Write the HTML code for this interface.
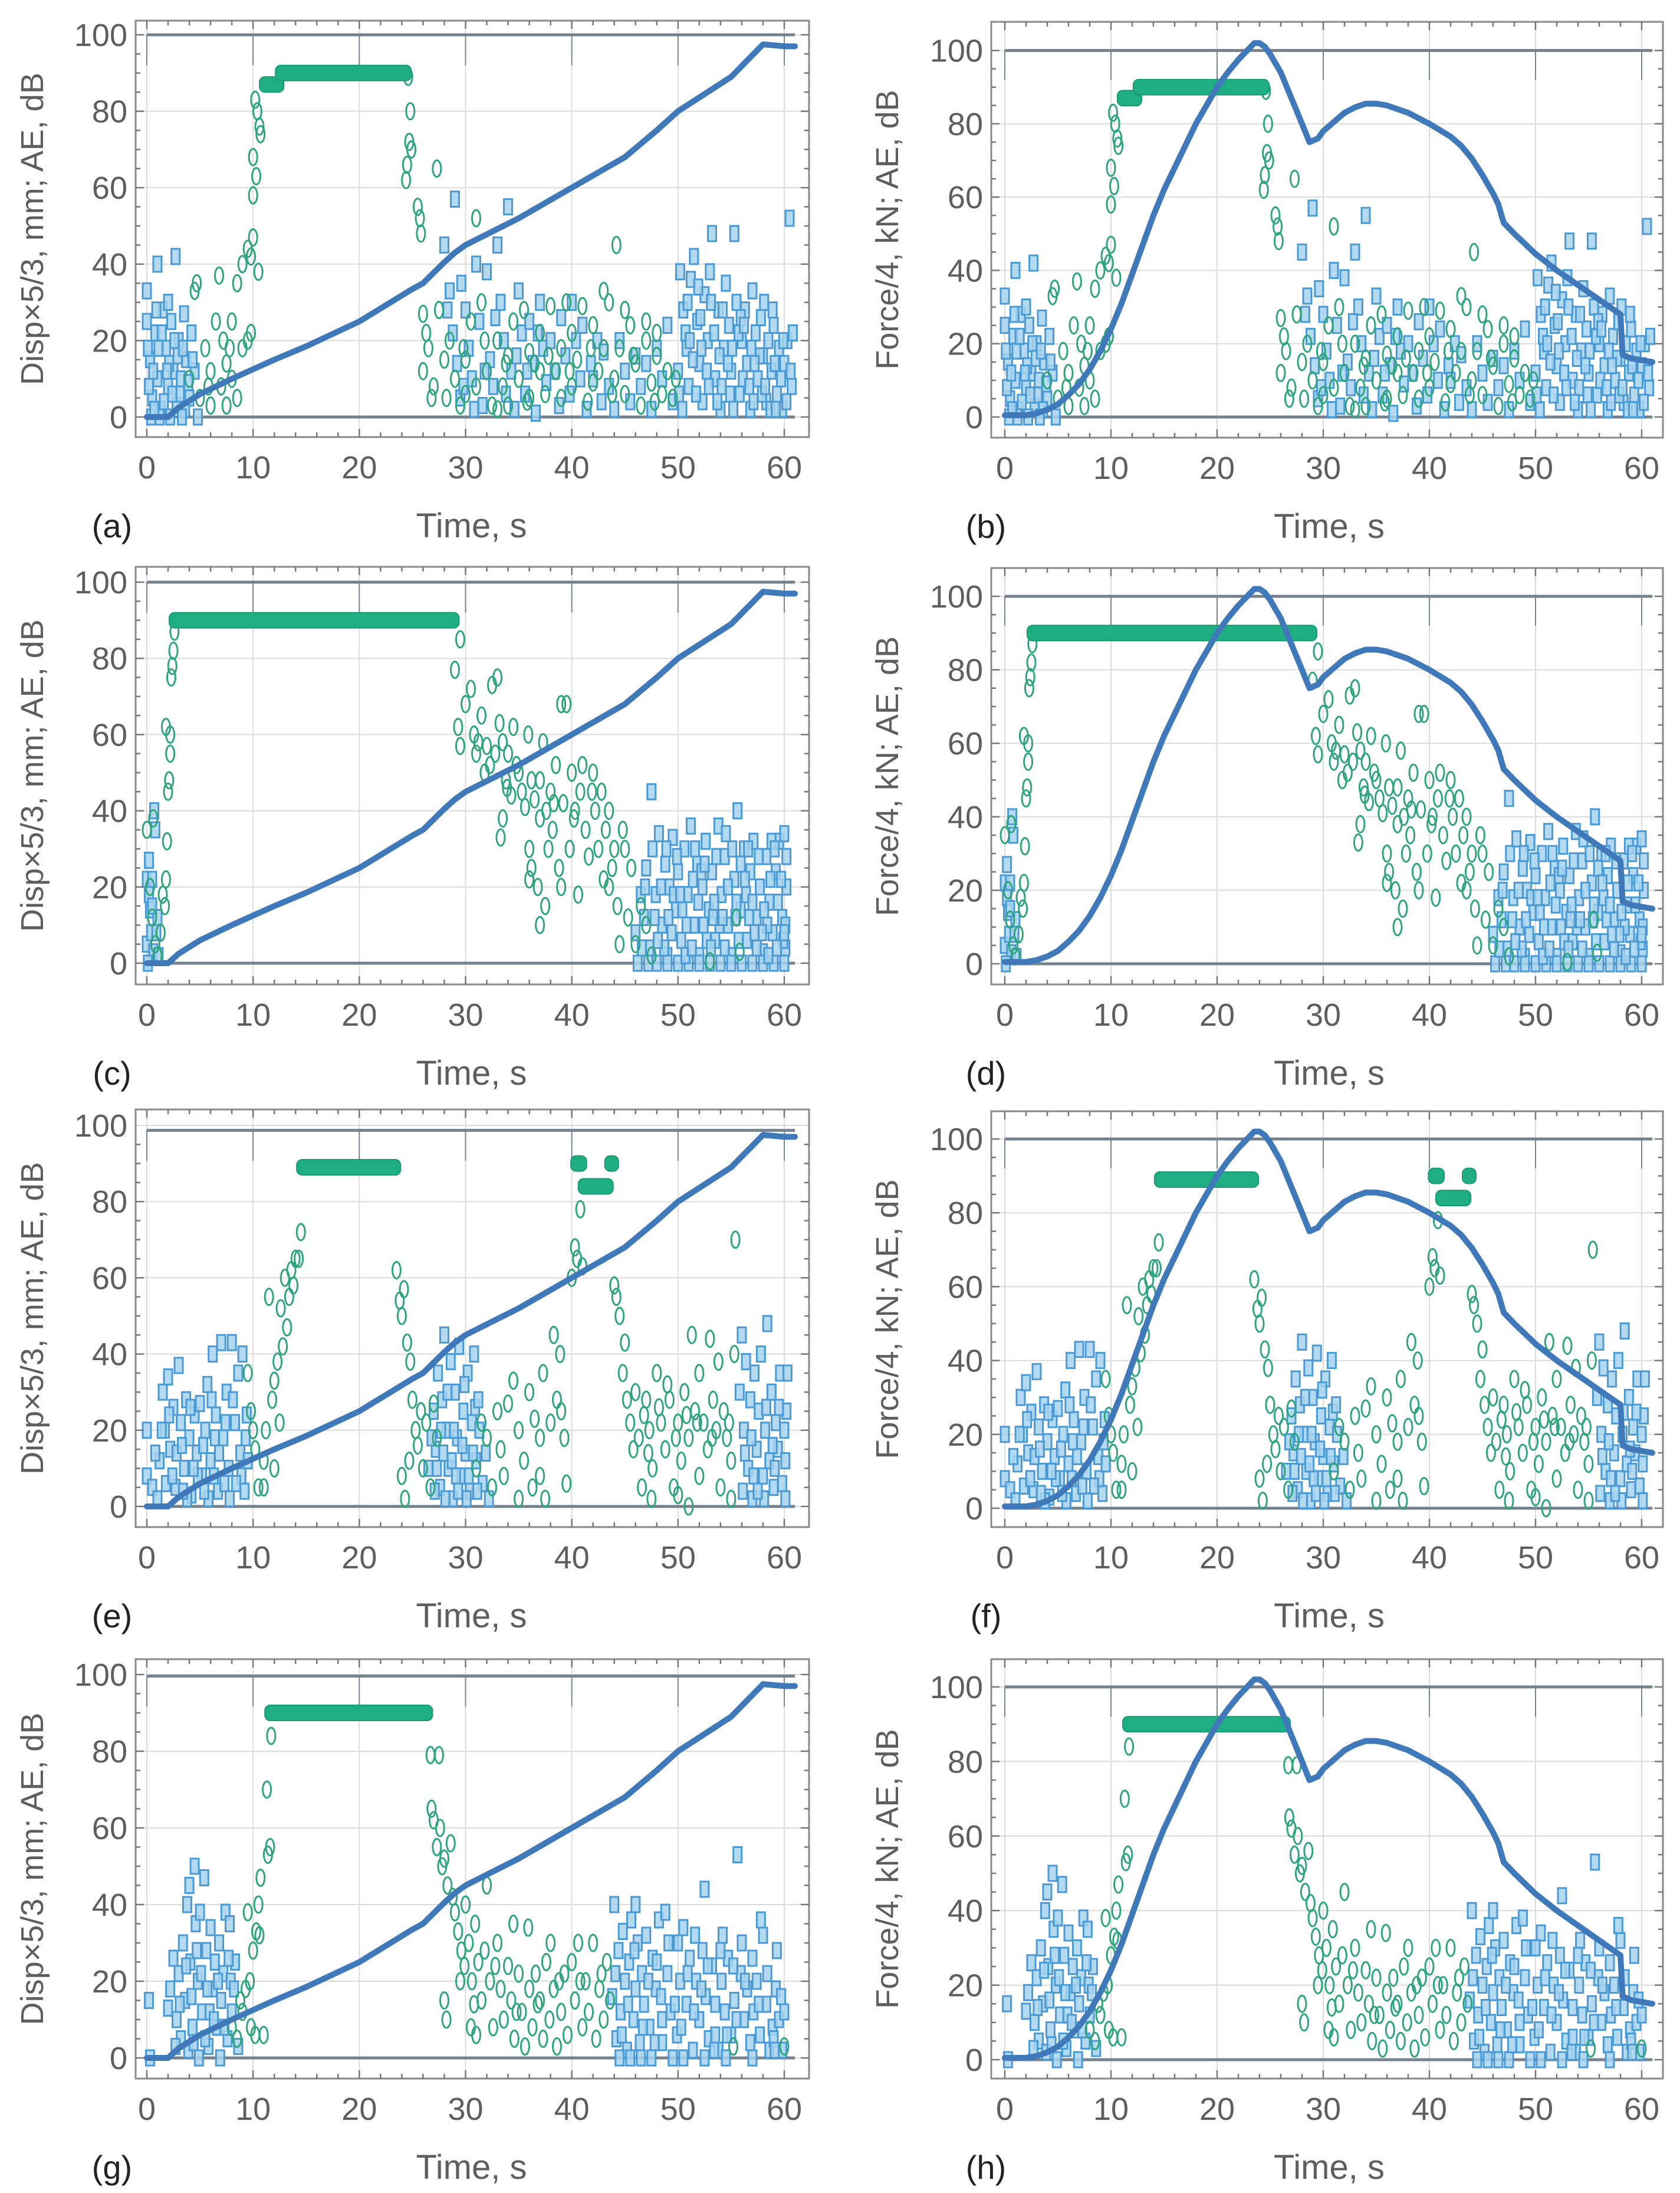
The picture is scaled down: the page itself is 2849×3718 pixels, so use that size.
<!DOCTYPE html>
<html><head><meta charset="utf-8"><style>
html,body{margin:0;padding:0;background:#fff}
svg{display:block}
text{font-family:"Liberation Sans",sans-serif;fill:#5e5e5e}
</style></head><body>
<svg id="fig" width="2849" height="3718" viewBox="0 0 2849 3718" xmlns="http://www.w3.org/2000/svg"></svg>
<script>
// ---- line series ----
const dispT=[0,1,2,3,5,8,10,12,15,20,25,26,28,29,30,35,40,45,48,50,55,58,60,61];
const dispV=[0,0,0,2.5,6,10,12.5,15,18.5,25,33.5,35,40.5,43,45,52,60,68,75,80,89,97.5,97,97];
const forceT=[0,2,3,4,5,6,7,8,9,10,11,12,13,14,15,16,17,18,19,20,21,22,23,23.5,24,24.5,25,26,27,28,28.7,29.5,30,31,32,33,34,35,36,38,40,42,43,44,45,46,46.5,47,47.5,48,50,52,54,56,58,58.2,59,61];
const forceV=[0.5,0.5,1,2,3.5,6,9,13,18,24,31,39,47,55,62,68,74,80,85,90,94,97.5,100.5,102,102,101,99,94,87,80,75,76,78,80.5,83,84.5,85.5,85.5,85,83,80,76.5,74,70.5,66,61,58,53,51.5,50,44.5,40,36,32,28,17,16,15];
// ---- AE plateaus [t0,t1,level] ----
const plat1=[[11,12.5,87],[12.5,24.5,90]];
const plat2=[[2.5,29,90]];
const plat3=[[14.5,23.5,89],[40.3,41,90],[41,43.5,84],[43.5,44,90]];
const plat4=[[11.5,26.5,90]];
// ---- AE channel 1 (green ellipses) ----
const green1=[[8.5,35],[9,40],[9.5,44],[9.8,42],[10,47],[10,58],[10,68],[10.3,63],[10.2,83],[10.4,80],[10.6,76],[10.7,74],[10.5,38],[9.5,20],[9.8,22],[4.5,33],[4.7,35],[5.5,18],[6,12],[6.5,25],[6.8,37],[7,8],[7.2,20],[7.5,14],[8,10],[8.5,5],[9,18],[4,10],[5,5],[6,3],[7.5,3],[8,25],[24.6,89],[24.8,80],[24.7,72],[24.5,66],[24.4,62],[24.9,70],[25.5,55],[25.7,52],[25.8,48],[27.3,65],[26,27],[26.3,22],[26,12],[26.5,18],[26.8,5],[27,8],[27.5,28],[28,15],[28.2,5],[28.5,20],[29,10],[29.5,3],[30,15],[30.5,25],[31,8],[31.5,30],[32,12],[32.5,3],[33,20],[33.5,8],[34,16],[34.5,25],[35,10],[35.5,28],[36,5],[36.5,14],[37,22],[37.5,6],[38,29],[38.5,12],[39,18],[39.5,30],[40,8],[40.5,15],[41,29],[41.5,4],[42,24],[42.5,12],[43,33],[43.5,30],[44,10],[44.2,45],[44.5,18],[45,6],[45.5,24],[46,14],[46.5,3],[47,20],[47.5,9],[48,16],[48.5,6],[49,12],[49.5,5],[31,52],[33,2],[37,12],[40,22],[45,28],[47,25],[36,17],[39,5],[42,9],[34,3],[30,6],[43,18],[48,22],[29.8,18],[31.8,20],[33.8,14],[35.8,4],[37.8,16],[39.8,12],[41.8,18],[43.8,6],[45.8,16],[47.8,4],[49.8,10],[5.8,8],[7.8,18]];
const green2=[[0,35],[0.3,20],[0.5,12],[0.8,5],[1,2],[1.3,8],[1.5,18],[1.7,15],[1.8,22],[1.9,32],[2,45],[2.1,48],[2.2,60],[2.2,55],[2.3,75],[2.4,78],[2.5,82],[2.6,87],[1.8,62],[0.6,38],[29.5,85],[29,77],[29.3,62],[29.5,57],[30,68],[30.5,72],[30.8,60],[31,55],[31.5,65],[32,57],[32.3,52],[32.5,73],[33,75],[33.2,63],[33.5,58],[33.8,48],[33.3,33],[33.5,38],[34,55],[34.3,44],[34.5,62],[35,50],[35.3,45],[35.6,41],[35.9,60],[36,30],[36.2,25],[36.5,43],[36.8,20],[37,38],[37,48],[37.3,58],[37.6,40],[37.8,30],[37,10],[36,22],[37.5,15],[38,45],[38.2,35],[38.5,52],[38.8,25],[39,20],[39.2,42],[39,68],[39.5,68],[39.8,30],[40,50],[40.3,40],[40.6,18],[40.8,45],[41,52],[41.3,35],[41.6,28],[41.9,45],[42.2,40],[42.5,30],[42.8,45],[43,22],[43.2,35],[43.5,20],[43.8,25],[44,30],[44.3,15],[44.5,5],[44.8,35],[45,30],[45.3,12],[45.6,25],[46,5],[46.5,15],[47,10],[47.5,2],[55.5,12],[55.8,3],[53,0.5],[31.2,58],[32.8,55],[34.8,52],[36.2,48],[38.3,42],[40.2,38],[42,50],[43.5,40],[31.8,50],[33.9,46]];
const green3=[[9.5,35],[9.8,25],[10,20],[10.2,15],[10.5,5],[11,12],[11.2,20],[11.5,55],[11.8,28],[12,33],[12.3,38],[12.5,22],[12.6,52],[12.8,42],[13,60],[13.2,47],[13.4,55],[13.6,62],[13.8,58],[14,65],[14.3,65],[14.5,72],[11,5],[12,10],[23.5,62],[23.8,54],[24,50],[24.2,57],[24.5,43],[24.8,38],[25,28],[25.3,20],[25.5,16],[25.8,25],[26,10],[24,8],[24.3,2],[24.7,12],[26.3,22],[26.7,5],[27,27],[27.3,18],[31,10],[31.5,22],[32,18],[32.5,5],[33,25],[33.3,15],[33.6,8],[34,27],[34.5,33],[35,20],[35.5,12],[36,30],[36.3,5],[36.5,23],[37,18],[37.3,35],[37.5,2],[38,22],[38.3,45],[38.6,28],[38.9,40],[39,25],[39.3,18],[39.5,6],[40,60],[40.3,68],[40.5,65],[40.8,78],[41,63],[35,2],[37,8],[44,58],[44.2,55],[44.5,50],[45,43],[44.8,35],[45.2,28],[45.5,22],[45.8,15],[46,30],[46.3,18],[46.6,5],[47,28],[47.3,20],[47.6,10],[48,35],[48.4,22],[48.8,15],[49.2,28],[49.6,5],[50,22],[50.3,12],[50.6,30],[51,18],[51.3,45],[51.6,25],[52,8],[52.4,22],[52.8,15],[53,44],[53.3,28],[53.6,20],[54,5],[54.3,25],[54.6,18],[55,12],[55.3,40],[55.4,70],[53.8,38],[52,35],[50,3],[47.5,2],[49,32],[51,0],[55,2],[46.8,24],[48.2,26],[49.8,18],[51.8,22],[53.2,18],[54.8,22],[47.2,14],[50.8,24]];
const green4=[[11.7,84],[11.3,70],[11.6,55],[11.4,53],[10.7,47],[10.5,40],[10.3,33],[10.6,32],[10,28],[9.5,38],[9.7,20],[9.3,18],[9,12],[8.5,5],[9.8,8],[10.2,6],[11,6],[8,8],[8.8,15],[26.7,79],[27.5,79],[26.8,65],[27,62],[27.3,55],[27.6,60],[27.8,50],[28,52],[28.3,45],[28.6,56],[28.8,42],[29,38],[29.3,33],[29.6,28],[29.9,24],[28,15],[28.2,10],[30,40],[30.3,30],[30.6,20],[30.9,35],[31.2,25],[31.5,15],[31.8,28],[32,45],[32.3,20],[32.6,8],[33,30],[33.3,18],[33.6,10],[34,24],[34.3,15],[34.6,5],[34.5,35],[35,22],[35.3,12],[35.6,3],[35.9,34],[36,18],[36.3,8],[36.6,22],[37,15],[37.3,5],[37.6,25],[37.9,10],[38,30],[38.3,18],[38.6,3],[39,12],[39.3,22],[39.6,6],[40,25],[40.3,15],[40.6,30],[41,8],[41.3,20],[41.6,12],[42,30],[42.3,5],[42.6,18],[43,10],[43.3,25],[43.6,15],[55.2,3],[60,3],[30.5,8],[31,6],[29.5,20],[30.8,14],[32.8,24],[34.8,12],[36.8,14],[38.8,20],[40.8,20],[42.8,22]];
// ---- AE channel 2 (blue rectangles) ----
const blue1=[[0,33],[0,25],[0.3,15],[0.5,5],[0.8,22],[1,40],[1,10],[1.3,2],[1.5,28],[1.8,18],[2,30],[2,8],[2.3,25],[2.5,12],[2.7,42],[2.8,3],[3,20],[3.2,10],[3.5,27],[3.7,15],[4,5],[4.2,22],[0.2,8],[0.6,12],[1.1,18],[1.6,4],[2.1,14],[2.6,20],[3.1,6],[3.6,2],[4.5,12],[4.8,0],[0.4,0],[1.2,0],[2.2,0],[3.3,0],[0.9,28],[1.9,12],[2.9,16],[3.9,9],[0.1,18],[0.7,2],[1.4,22],[2.4,6],[3.4,18],[4.3,15],[28,45],[28.5,33],[28.8,22],[29,57],[29.2,14],[29.5,5],[30,28],[30.3,18],[30.6,10],[31,40],[31.3,25],[31.6,3],[32,38],[32.3,15],[32.6,8],[33,45],[33.3,30],[33.6,20],[34,55],[34.3,12],[34.6,2],[35,33],[35.3,22],[35.6,6],[36,25],[36.3,14],[36.6,1],[37,30],[37.3,18],[37.6,9],[38,20],[38.4,12],[38.8,3],[39,26],[39.4,16],[39.8,6],[40,30],[40.4,20],[40.8,10],[41,24],[41.4,2],[41.8,14],[42,10],[42.4,20],[42.8,4],[43,17],[43.5,8],[44,2],[44.5,20],[45,12],[45.5,4],[46,16],[46.5,8],[47,14],[47.5,2],[48,18],[48.5,10],[49,24],[49.5,4],[50,12],[29.8,8],[30.8,2],[31.8,12],[32.8,26],[33.8,6],[34.8,16],[35.8,12],[36.8,22],[28.3,28],[29.6,35],[50.2,38],[50.5,28],[50.8,18],[51,8],[51.2,36],[51.5,42],[51.8,25],[52,14],[52.3,4],[52.5,32],[52.8,20],[53,38],[53.2,48],[53.5,10],[53.8,28],[54,2],[54.3,18],[54.5,35],[54.8,24],[55,12],[55.3,48],[55.5,30],[55.8,6],[56,20],[56.3,28],[56.5,14],[56.8,2],[57,33],[57.3,22],[57.5,10],[57.8,26],[58,16],[58.3,4],[58.5,20],[58.8,12],[59,24],[59.3,6],[59.5,18],[59.8,2],[60,14],[60.3,20],[60.5,52],[60.7,8],[60.8,22],[50.4,2],[51.4,15],[52.1,26],[53.4,22],[54.1,8],[55.1,18],[56.1,10],[57.1,4],[58.1,30],[59.1,14],[50.7,22],[51.7,6],[52.7,12],[53.7,4],[54.7,14],[55.7,22],[56.7,8],[57.7,16],[58.7,2],[59.7,10],[60.2,4],[50.9,30],[51.9,34],[52.9,8],[53.9,16],[54.9,6],[55.9,26],[56.9,18],[57.9,6],[58.9,28],[59.9,20],[60.6,12],[50.1,6],[51.1,20],[52.2,18],[53.1,30],[54.2,28],[55.2,2],[56.2,24],[57.2,14],[58.2,8],[59.2,2]];
const blue2=[[0,22],[0,5],[0.2,27],[0.3,14],[0.4,8],[0.5,22],[0.6,3],[0.7,40],[0.8,35],[1,12],[1.1,2],[0.1,0],[0.2,18],[0.5,15],[0.9,8],[47.5,45],[46,8],[46.5,18],[46.8,12],[47,25],[47.3,4],[47.6,30],[47.9,18],[48.2,34],[48.5,10],[48.8,26],[49,2],[49.2,20],[49.5,33],[49.8,14],[50,24],[50.3,6],[50.6,30],[50.9,18],[51.2,36],[51.5,10],[51.8,26],[52,2],[52.3,20],[52.6,32],[52.9,14],[53.2,24],[53.5,6],[53.8,36],[54.1,18],[54.4,28],[54.7,10],[55,2],[55.3,22],[55.6,40],[55.9,14],[56.2,30],[56.5,6],[56.8,24],[57.1,32],[57.4,12],[57.7,20],[58,3],[58.3,28],[58.6,16],[58.9,8],[59.2,24],[59.5,32],[59.8,12],[60,34],[60.1,4],[60.2,20],[46.2,0],[47.2,0],[48,0],[49,0],[50,0],[51,0],[52,0],[53,0],[54,0],[55,0],[56,0],[57,0],[58,0],[59,0],[60,0],[48.4,20],[49.4,8],[50.4,14],[51.4,22],[52.4,10],[53.4,16],[54.4,4],[55.4,12],[56.4,18],[57.4,4],[58.4,10],[59.4,16],[60.1,10],[48.7,4],[50.7,2],[52.7,6],[54.7,20],[56.7,12],[58.7,22],[49.9,28],[51.9,16],[53.9,10],[55.9,26],[57.9,8],[59.9,6],[46.6,4],[47.8,12],[48.9,30],[49.6,18],[50.8,10],[51.6,30],[52.2,24],[53.1,4],[53.6,28],[54.2,12],[55.1,30],[55.7,6],[56.3,22],[57,16],[57.6,28],[58.1,14],[58.8,32],[59.3,4],[59.7,22],[60.2,28],[46.9,20],[48.1,6],[49.1,12],[50.2,18],[51.3,4],[52.5,26],[53.3,12],[54.5,34],[55.5,16],[56.6,30],[57.2,8],[58.5,2],[59.1,30],[60,8]];
const blue3=[[0,20],[0,8],[0.5,5],[1,2],[1.2,12],[1.5,30],[1.7,20],[2,34],[2.2,15],[2.5,26],[2.7,5],[3,37],[3.2,22],[3.5,10],[3.7,28],[4,18],[4.2,3],[4.5,24],[4.7,14],[5,27],[5.2,8],[5.5,20],[5.7,32],[6,12],[6.2,40],[6.5,24],[6.7,4],[7,43],[7.2,18],[7.5,30],[7.7,10],[8,43],[8.3,22],[8.6,35],[8.8,14],[9,40],[9.2,4],[9.4,24],[1.8,6],[2.8,14],[3.8,2],[4.8,8],[5.8,2],[6.8,14],[7.8,2],[8.9,8],[0.8,14],[3.3,16],[5.3,16],[6.3,8],[7.3,6],[9.5,12],[1.4,20],[2.4,8],[3.4,4],[4.4,10],[5.4,4],[6.4,18],[7.4,22],[8.4,6],[9.3,18],[2.1,24],[4.1,26],[6.1,28],[8.1,28],[26.5,10],[27,25],[27.2,15],[27.4,35],[27.6,5],[27.8,28],[28,45],[28.2,20],[28.4,10],[28.6,38],[28.8,2],[29,30],[29.2,18],[29.4,42],[29.6,8],[29.8,25],[30,14],[30.2,35],[30.4,4],[30.6,22],[30.8,40],[31,12],[31.3,20],[31.6,6],[31.9,14],[32.2,2],[27.1,4],[28.1,2],[29.1,8],[30.1,2],[31.1,4],[27.9,14],[28.9,20],[29.9,32],[30.9,26],[27.3,10],[27.7,20],[28.3,30],[28.7,12],[29.3,4],[29.7,16],[30.3,8],[30.7,14],[31.2,28],[26.8,18],[55.8,30],[56,45],[56.2,20],[56.4,38],[56.6,10],[56.8,28],[57,2],[57.2,35],[57.4,15],[57.6,25],[57.8,40],[58,8],[58.2,20],[58.4,48],[58.6,12],[58.8,30],[59,5],[59.2,22],[59.4,15],[59.6,35],[59.8,6],[60,20],[60.2,25],[60.3,35],[56.1,4],[57.1,8],[58.1,2],[59.1,10],[60.1,2],[56.3,14],[56.9,18],[57.5,4],[58.3,26],[58.9,16],[59.5,26],[60.1,12]];
const blue4=[[0.2,15],[0.3,0],[2,13],[2.2,18],[2.5,26],[2.8,10],[3,22],[3.2,5],[3.4,30],[3.6,15],[3.8,40],[4,45],[4.1,25],[4.3,8],[4.5,50],[4.6,35],[4.8,20],[5,38],[5.2,12],[5.4,47],[5.6,28],[5.8,3],[6,34],[6.2,18],[6.4,25],[6.6,8],[6.8,30],[7,15],[7.2,22],[7.4,38],[7.6,5],[7.8,35],[8,12],[8.3,25],[8.6,3],[4.9,0],[3.9,2],[5.9,12],[6.9,0],[7.9,20],[2.7,3],[5.5,5],[3.1,14],[3.7,24],[4.2,16],[4.7,28],[5.1,22],[5.7,18],[6.3,10],[6.7,20],[7.3,8],[7.7,26],[8.2,18],[4.4,4],[43.8,16],[44,40],[44.2,5],[44.4,28],[44.6,12],[44.8,33],[45,20],[45.2,2],[45.4,25],[45.6,36],[45.8,10],[46,18],[46.2,30],[46.4,4],[46.6,22],[46.8,14],[47,32],[47.3,8],[47.6,26],[47.9,18],[48.2,36],[48.5,4],[48.8,38],[49,22],[49.3,12],[49.6,30],[49.9,6],[50.2,20],[50.5,34],[50.8,14],[51.1,26],[51.4,2],[51.7,20],[52,10],[52.3,28],[52.6,16],[52.9,5],[53.2,24],[53.5,14],[53.8,2],[54.1,20],[54.4,12],[54.7,26],[55,6],[55.3,15],[55.6,53],[55.9,22],[56.2,10],[56.5,18],[56.8,4],[57.1,12],[57.4,20],[57.7,6],[58,32],[58.3,14],[58.6,2],[58.9,8],[59.2,18],[59.5,10],[59.8,2],[60,12],[44.5,0],[45.5,0],[46.5,0],[47.5,0],[48.5,10],[49.5,0],[50.5,0],[51.5,12],[52.5,0],[53.5,6],[54.5,0],[55.5,10],[57,0],[59,5],[52.5,44],[54.2,32],[56,30],[57.8,36],[59.3,28],[50,30],[48,25],[46,40],[44.1,22],[44.7,6],[45.3,14],[45.9,28],[46.7,8],[47.2,20],[47.8,4],[48.4,16],[49.1,30],[49.7,14],[50.3,8],[50.9,22],[51.6,32],[52.2,18],[52.8,24],[53.4,2],[54,28],[54.6,6],[55.2,24],[56.3,20],[57,26],[57.6,14],[58.4,22],[59.1,2],[59.7,16]];
const xTicks=[0,10,20,30,40,50,60];
const yTicks=[0,20,40,60,80,100];

const NS='http://www.w3.org/2000/svg';
const svg=document.getElementById('fig');
function mk(tag,attrs,parent){const e=document.createElementNS(NS,tag);for(const k in attrs)e.setAttribute(k,attrs[k]);(parent||svg).appendChild(e);return e;}

const cols={L:{fl:230,fr:1372,x0:249,x60:1330,ytx:54,letx:190,title:'Disp×5/3, mm; AE, dB',curveT:dispT,curveV:dispV},
            R:{fl:1681,fr:2820,x0:1704,x60:2784,ytx:1504,letx:1672,title:'Force/4, kN; AE, dB',curveT:forceT,curveV:forceV}};
const panels=[
 {id:'a',c:'L',ft:35,fb:741,y100:59,y0:707,top:100,g:green1,b:blue1,p:plat1},
 {id:'b',c:'R',ft:37,fb:742,y100:85.6,y0:707,top:100,g:green1,b:blue1,p:plat1},
 {id:'c',c:'L',ft:961,fb:1669,y100:987,y0:1633,top:100,g:green2,b:blue2,p:plat2},
 {id:'d',c:'R',ft:963,fb:1669,y100:1011,y0:1634,top:100,g:green2,b:blue2,p:plat2},
 {id:'e',c:'L',ft:1881,fb:2589,y100:1908,y0:2554,top:98.7,g:green3,b:blue3,p:plat3},
 {id:'f',c:'R',ft:1884,fb:2589,y100:1931,y0:2557,top:100,g:green3,b:blue3,p:plat3},
 {id:'g',c:'L',ft:2813,fb:3524,y100:2839,y0:3489,top:99.6,g:green4,b:blue4,p:plat4},
 {id:'h',c:'R',ft:2813,fb:3524,y100:2860,y0:3492,top:100,g:green4,b:blue4,p:plat4}];

panels.forEach(P=>{
  const C=cols[P.c];
  const sx=t=>C.x0+(C.x60-C.x0)*t/60;
  const sy=v=>P.y0-(P.y0-P.y100)*v/100;
  const g=mk('g',{});
  
  
  const cid='clip'+P.id;
  const cp=mk('clipPath',{id:cid},g);
  mk('rect',{x:C.fl,y:P.ft,width:C.fr-C.fl,height:P.fb-P.ft},cp);
  const grid=mk('g',{stroke:'#dcdcdc','stroke-width':2},g);
  
  
  xTicks.forEach(t=>mk('line',{x1:sx(t),x2:sx(t),y1:P.ft,y2:P.fb},grid));
  yTicks.forEach(v=>mk('line',{x1:C.fl,x2:C.fr,y1:sy(v),y2:sy(v)},grid));
  xTicks.forEach(t=>mk('line',{x1:sx(t),x2:sx(t),y1:sy(P.top),y2:sy(P.top-8),stroke:'#7a8591','stroke-width':2},g));
  const dg=mk('g',{'clip-path':'url(#'+cid+')'},g);
  const ref=mk('line',{x1:sx(0),x2:sx(61),y1:sy(P.top),y2:sy(P.top),stroke:'#75818c','stroke-width':5},dg);
  
  
  const z=mk('line',{x1:sx(0),x2:sx(61),y1:sy(0),y2:sy(0),stroke:'#75818c','stroke-width':5},dg);
  
  
  const bg=mk('g',{fill:'#a6d4ef','fill-opacity':0.85,stroke:'#4a9ad6','stroke-width':3},dg);
  
  
  P.b.forEach(d=>{const r=mk('rect',{x:sx(d[0])-7,y:sy(d[1])-13,width:14,height:26},bg);
    
    });
  const gg=mk('g',{fill:'none',stroke:'#2ea57c','stroke-width':3},dg);
  
  
  P.g.forEach(d=>{const e=mk('ellipse',{cx:sx(d[0]),cy:sy(d[1]),rx:7,ry:14},gg);
    
    });
  P.p.forEach(s=>{const r=mk('rect',{x:sx(s[0])-7,y:sy(s[2])-13,width:sx(s[1])-sx(s[0])+14,height:26,rx:9,fill:'#1fae82',stroke:'#1a9a72','stroke-width':2},dg);
    
    });
  const pts=C.curveT.map((t,i)=>sx(t)+','+sy(C.curveV[i])).join(' ');
  const pl=mk('polyline',{points:pts,fill:'none',stroke:'#3f79b9','stroke-width':10,'stroke-linejoin':'round','stroke-linecap':'round'},dg);
  
  
  const fr=mk('rect',{x:C.fl,y:P.ft,width:C.fr-C.fl,height:P.fb-P.ft,fill:'none',stroke:'#8a8a8a','stroke-width':3},g);
  
  
  const tk=mk('g',{stroke:'#777','stroke-width':2.5},g);
  for(let t=0;t<=61;t+=2){const L=t%10===0?14:8;
    mk('line',{x1:sx(t),x2:sx(t),y1:P.fb,y2:P.fb-L},tk);mk('line',{x1:sx(t),x2:sx(t),y1:P.ft,y2:P.ft+L},tk);}
  for(let v=0;v<=P.top+1;v+=5){const L=v%20===0?14:8;if(sy(v)<P.ft)continue;
    mk('line',{x1:C.fl,x2:C.fl+L,y1:sy(v),y2:sy(v)},tk);mk('line',{x1:C.fr,x2:C.fr-L,y1:sy(v),y2:sy(v)},tk);}
  xTicks.forEach(t=>{const tx=mk('text',{x:sx(t),y:P.fb+70,'font-size':54,'text-anchor':'middle'},g);tx.textContent=t;
    
    });
  yTicks.forEach(v=>{const tx=mk('text',{x:C.fl-14,y:sy(v)+19,'font-size':54,'text-anchor':'end'},g);tx.textContent=v;
    
    });
  const xt=mk('text',{x:(C.x0+C.x60)/2+10,y:P.fb+170,'font-size':58,'text-anchor':'middle'},g);xt.textContent='Time, s';
  
  
  const cy=(P.ft+P.fb)/2;
  const yt=mk('text',{x:C.ytx,y:cy,'font-size':54,'text-anchor':'middle',transform:'rotate(-90 '+C.ytx+' '+cy+') translate(0 19)'},g);yt.textContent=C.title;
  
  
  const lt=mk('text',{x:C.letx,y:P.fb+170,'font-size':56,'text-anchor':'middle',style:'fill:#222'},g);lt.textContent='('+P.id+')';
  
  
});
</script>
</body></html>
